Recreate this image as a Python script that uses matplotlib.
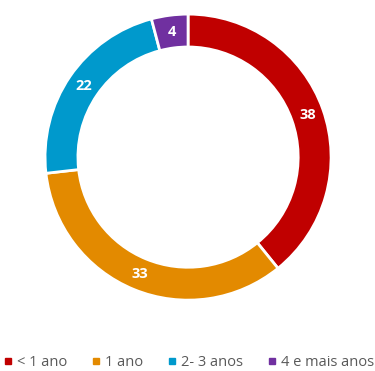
import matplotlib.pyplot as plt
from matplotlib.lines import Line2D
import numpy as np

categories = ['< 1 ano', '1 ano', '2- 3 anos', '4 e mais anos']
values = [38, 33, 22, 4]
colors = ['#C00000', '#E38A00', '#0099CC', '#7030A0']

plt.rcParams['font.family'] = ['Open Sans', 'DejaVu Sans']

fig = plt.figure(figsize=(3.75, 3.71), dpi=100)
ax = fig.add_axes([0.12, 0.191, 0.763, 0.771])

wedges, texts = ax.pie(values, colors=colors, startangle=90, counterclock=False,
                       radius=1.0, wedgeprops=dict(width=0.23, edgecolor='white', linewidth=2))

# value labels sit in the middle of the ring
for w, v in zip(wedges, values):
    ang = np.deg2rad((w.theta1 + w.theta2) / 2)
    r = 0.885
    ax.text(r * np.cos(ang), r * np.sin(ang), str(v), ha='center', va='center',
            color='white', fontsize=10.5, fontweight='bold')

ax.set_xlim(-1, 1)
ax.set_ylim(-1, 1)
ax.set_aspect('equal')

handles = [Line2D([], [], marker='s', linestyle='none', markersize=5,
                  markerfacecolor=c, markeredgecolor=c) for c in colors]
fig.legend(handles, categories, loc='center', bbox_to_anchor=(0.5, 0.022),
           ncol=4, frameon=False, fontsize=10.5, labelcolor='#595959',
           handletextpad=0.1, columnspacing=1.5, handlelength=1.0)

fig.savefig('out.png', dpi=100)
